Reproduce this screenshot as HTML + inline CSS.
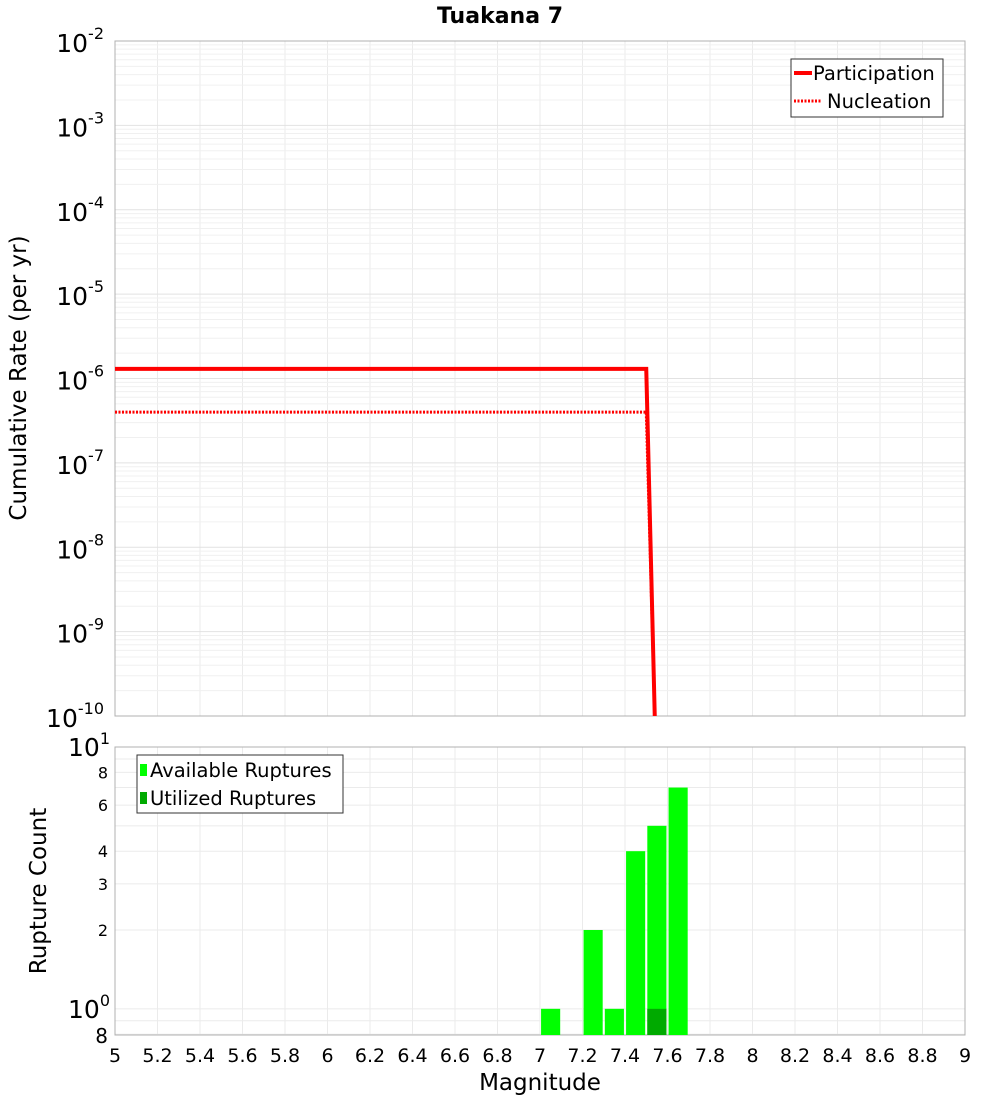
<!DOCTYPE html>
<html><head><meta charset="utf-8"><style>
body{margin:0;background:#fff;font-family:"Liberation Sans","DejaVu Sans",sans-serif}
svg text{font-family:"DejaVu Sans","Liberation Sans",sans-serif}
</style></head><body>
<svg id="c" width="1000" height="1100" xmlns="http://www.w3.org/2000/svg"></svg>
<script>
const barMags=[7.05,7.25,7.35,7.45,7.55,7.65];
const availCounts=[1,2,1,4,5,7];
const utilMags=[7.55];
const utilCounts=[1];
const partMags=[5.0,7.5,7.54];
const partRates=[1.3e-6,1.3e-6,1e-10];
const nuclMags=[5.0,7.5,7.54];
const nuclRates=[4e-7,4e-7,1e-10];
const xTicks=[5,5.2,5.4,5.6,5.8,6,6.2,6.4,6.6,6.8,7,7.2,7.4,7.6,7.8,8,8.2,8.4,8.6,8.8,9];
const topExps=[-2,-3,-4,-5,-6,-7,-8,-9,-10];
const botTicks=[["10","1",10],["8","",8],["6","",6],["4","",4],["3","",3],["2","",2],["10","0",1],["8","",0.8]];

const S=document.getElementById('c'),NS='http://www.w3.org/2000/svg';
function el(t,a,p){const e=document.createElementNS(NS,t);for(const k in a)e.setAttribute(k,a[k]);(p||S).appendChild(e);return e;}
const L=115,R=965,T1=41,B1=716,T2=747,B2=1035;
const X=m=>L+(m-5)/4*(R-L);
const Y1=v=>T1+(-2-Math.log10(v))/8*(B1-T1);
const bMin=-0.1,bMax=1;
const Y2=v=>B2-(Math.log10(v)-bMin)/(bMax-bMin)*(B2-T2);

const g=el('g',{});
for(const t of xTicks){el('line',{x1:X(t),x2:X(t),y1:T1,y2:B1,stroke:'#ebebeb'},g);el('line',{x1:X(t),x2:X(t),y1:T2,y2:B2,stroke:'#ebebeb'},g);}
for(let e=-10;e<-2;e++)for(let k=1;k<10;k++){const y=Y1(k*Math.pow(10,e));el('line',{x1:L,x2:R,y1:y,y2:y,stroke:k==1?'#e2e2e2':'#f0f0f0'},g);}
for(const v of [0.8,0.9,1,2,3,4,5,6,7,8,9,10]){const y=Y2(v);el('line',{x1:L,x2:R,y1:y,y2:y,stroke:'#ebebeb'},g);}

let f=el('rect',{x:L,y:T1,width:R-L,height:B1-T1,fill:'none',stroke:'#b0b0b0'});
f=el('rect',{x:L,y:T2,width:R-L,height:B2-T2,fill:'none',stroke:'#b0b0b0'});

function pts(ms,rs){return ms.map((m,i)=>X(m)+','+Math.min(Y1(rs[i]),B1)).join(' ');}
let p=el('polyline',{points:pts(partMags,partRates),fill:'none',stroke:'#ff0000','stroke-width':4});

p=el('polyline',{points:pts(nuclMags,nuclRates),fill:'none',stroke:'#ff0000','stroke-width':3,'stroke-dasharray':'2,1.5'});


const bw=0.09;
barMags.forEach((m,i)=>{const y=Y2(availCounts[i]);const r=el('rect',{x:X(m-bw/2),y:y,width:X(m+bw/2)-X(m-bw/2),height:B2-y,fill:'#00ff00'});
});
utilMags.forEach((m,i)=>{const y=Y2(utilCounts[i]);const r=el('rect',{x:X(m-bw/2),y:y,width:X(m+bw/2)-X(m-bw/2),height:B2-y,fill:'#00aa00'});
});

for(const t of xTicks){const tx=el('text',{x:X(t),y:1062,'font-size':19,'text-anchor':'middle',fill:'#000'});tx.textContent=String(t);
}
for(const e of topExps){const y=Y1(Math.pow(10,e));const tx=el('text',{x:104,y:y+11,'font-size':25,'text-anchor':'end',fill:'#000'});

const a=el('tspan',{},tx);a.textContent='10';const b=el('tspan',{dy:-13,'font-size':16},tx);b.textContent=String(e);}
for(const [base,ex,v] of botTicks){const y=Y2(v);const big=ex!==''||v==0.8;
const tx=el('text',{x:ex?110:108,y:y+(big?9:6),'font-size':big?(ex?25:20):16,'text-anchor':'end',fill:'#000'});

const a=el('tspan',{},tx);a.textContent=base;if(ex){const b=el('tspan',{dy:-12,'font-size':16},tx);b.textContent=ex;}}

let t=el('text',{x:500,y:23,'font-size':22,'font-weight':'bold','text-anchor':'middle'});t.textContent='Tuakana 7';
t=el('text',{x:540,y:1090,'font-size':23,'text-anchor':'middle'});t.textContent='Magnitude';
t=el('text',{x:0,y:0,'font-size':23,'text-anchor':'middle',transform:'translate(26,378) rotate(-90)'});t.textContent='Cumulative Rate (per yr)';
t=el('text',{x:0,y:0,'font-size':23,'text-anchor':'middle',transform:'translate(46,891) rotate(-90)'});t.textContent='Rupture Count';

let lg=el('g',{});
el('rect',{x:791,y:59,width:152,height:58,fill:'#fff',stroke:'#333'},lg);
el('line',{x1:794,x2:812,y1:73,y2:73,stroke:'#f00','stroke-width':4},lg);
el('line',{x1:794,x2:822,y1:101,y2:101,stroke:'#f00','stroke-width':3,'stroke-dasharray':'2,1.5'},lg);
t=el('text',{x:813,y:80,'font-size':19.5},lg);t.textContent='Participation';
t=el('text',{x:827,y:108,'font-size':19.5},lg);t.textContent='Nucleation';
lg=el('g',{});
el('rect',{x:137,y:755,width:206,height:58,fill:'#fff',stroke:'#333'},lg);
el('rect',{x:140,y:764,width:7,height:12,fill:'#00ff00'},lg);
el('rect',{x:140,y:792,width:7,height:12,fill:'#00aa00'},lg);
t=el('text',{x:150,y:777,'font-size':19.5},lg);t.textContent='Available Ruptures';
t=el('text',{x:150,y:805,'font-size':19.5},lg);t.textContent='Utilized Ruptures';
</script>
</body></html>
